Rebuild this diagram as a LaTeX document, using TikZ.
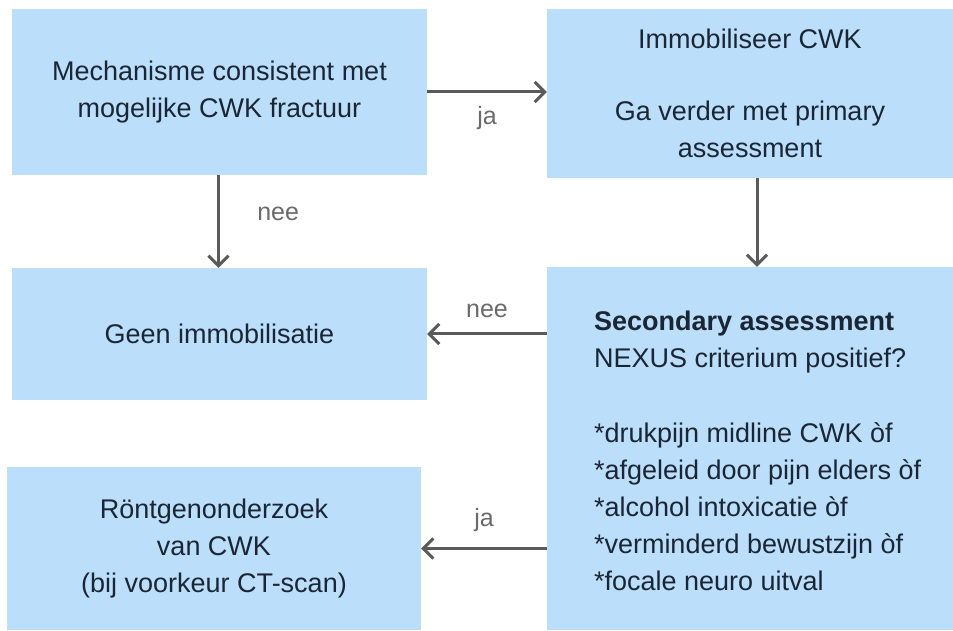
\documentclass[tikz,border=0pt]{standalone}
\usepackage{fontspec}
\setmainfont{Liberation Sans}
\usetikzlibrary{arrows.meta}
\definecolor{boxblue}{HTML}{BBDEFB}
\definecolor{boxtext}{HTML}{1B2634}
\definecolor{arrowgray}{HTML}{5A5A5A}
\definecolor{labelgray}{HTML}{6A6A6A}

\begin{document}
\begin{tikzpicture}[
      x=1pt, y=1pt,
      stepbox/.style = {shape=rectangle, fill=boxblue, text=boxtext, align=center, inner sep=0pt,
                        font=\fontsize{27}{37}\selectfont},
      steptext/.style = {text=boxtext, align=left, inner sep=0pt, font=\fontsize{27}{37}\selectfont},
      flow/.style = {draw=arrowgray, line width=3pt, -{Straight Barb[length=10pt,width=20pt]}},
      answer/.style = {text=labelgray, font=\fontsize{25}{30}\selectfont}
    ]
  \useasboundingbox (0,0) rectangle (953,630);

  % boxes
  \node[stepbox, minimum width=415pt, minimum height=166pt] (mech) at (219.5,538)
    {Mechanisme consistent met\\mogelijke CWK fractuur};
  \node[stepbox, minimum width=406pt, minimum height=169pt] (immo) at (750,536.5)
    {Immobiliseer CWK\\[35pt]Ga verder met primary\\assessment};
  \node[stepbox, minimum width=415pt, minimum height=132pt] (geen) at (219.5,296)
    {Geen immobilisatie};
  \node[stepbox, minimum width=406pt, minimum height=363pt] (nexus) at (750,181.5) {};
  \node[steptext, anchor=west] (nexustext) at ([xshift=47pt]nexus.west |- 0,179)
    {\textbf{Secondary assessment}\\NEXUS criterium positief?\\[38pt]*drukpijn midline CWK òf\\
     *afgeleid door pijn elders òf\\*alcohol intoxicatie òf\\*verminderd bewustzijn òf\\
     *focale neuro uitval};
  \node[stepbox, minimum width=414pt, minimum height=163pt] (rontgen) at (214,81.5)
    {Röntgenonderzoek\\van CWK\\(bij voorkeur CT-scan)};

  % connectors
  \draw[flow] (mech.east) -- node[answer, below=10pt] (ja1) {ja} (mech.east -| immo.west);
  \draw[flow] ([xshift=-1pt]mech.south) -- node[answer, right=34pt, yshift=8pt] (nee1) {nee} ([xshift=-1pt]geen.north);
  \draw[flow] ([xshift=7pt]immo.south) -- ([xshift=7pt]nexus.north);
  \draw[flow] (nexus.west |- geen.east) -- node[answer, above=11pt] (nee2) {nee} (geen.east);
  \draw[flow] (nexus.west |- rontgen.east) -- node[answer, above=12pt] (ja2) {ja} (rontgen.east);
\end{tikzpicture}
\end{document}
